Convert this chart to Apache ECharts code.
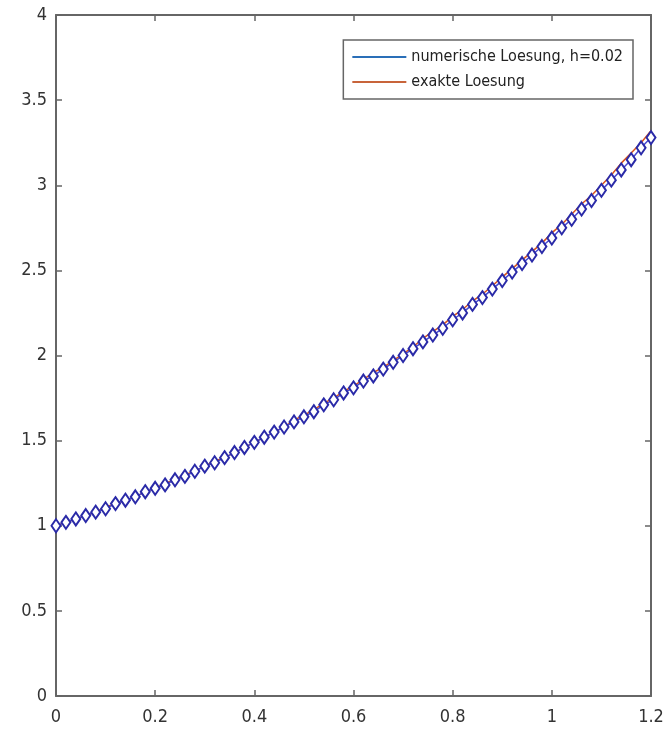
<!DOCTYPE html>
<html>
<head>
<meta charset="utf-8">
<script src="https://cdn.jsdelivr.net/npm/echarts@6/dist/echarts.min.js"></script>
<style>
  html, body { margin: 0; padding: 0; background: #fff; }
  #main { width: 669px; height: 740px; }
</style>
</head>
<body>
<div id="main"></div>
<script>
// x steps, h = 0.02
const xs = [0, 0.02, 0.04, 0.06, 0.08, 0.1, 0.12, 0.14, 0.16, 0.18, 0.2, 0.22, 0.24, 0.26, 0.28, 0.3,
  0.32, 0.34, 0.36, 0.38, 0.4, 0.42, 0.44, 0.46, 0.48, 0.5, 0.52, 0.54, 0.56, 0.58, 0.6,
  0.62, 0.64, 0.66, 0.68, 0.7, 0.72, 0.74, 0.76, 0.78, 0.8, 0.82, 0.84, 0.86, 0.88, 0.9,
  0.92, 0.94, 0.96, 0.98, 1, 1.02, 1.04, 1.06, 1.08, 1.1, 1.12, 1.14, 1.16, 1.18, 1.2]

const numerisch = [1.00, 1.02, 1.04, 1.06, 1.08, 1.10, 1.13, 1.15, 1.17, 1.20, 1.22, 1.24, 1.27, 1.29, 1.32, 1.35,
  1.37, 1.40, 1.43, 1.46, 1.49, 1.52, 1.55, 1.58, 1.61, 1.64, 1.67, 1.71, 1.74, 1.78, 1.81,
  1.85, 1.88, 1.92, 1.96, 2.00, 2.04, 2.08, 2.12, 2.16, 2.21, 2.25, 2.30, 2.34, 2.39, 2.44,
  2.49, 2.54, 2.59, 2.64, 2.69, 2.75, 2.80, 2.86, 2.91, 2.97, 3.03, 3.09, 3.15, 3.22, 3.28]

const exakt = [1.00, 1.02, 1.04, 1.06, 1.08, 1.11, 1.13, 1.15, 1.17, 1.20, 1.22, 1.25, 1.27, 1.30, 1.32, 1.35,
  1.38, 1.40, 1.43, 1.46, 1.49, 1.52, 1.55, 1.58, 1.62, 1.65, 1.68, 1.72, 1.75, 1.79, 1.82,
  1.86, 1.90, 1.93, 1.97, 2.01, 2.05, 2.10, 2.14, 2.18, 2.23, 2.27, 2.32, 2.36, 2.41, 2.46,
  2.51, 2.56, 2.61, 2.66, 2.72, 2.77, 2.83, 2.89, 2.94, 3.00, 3.06, 3.13, 3.19, 3.25, 3.32]

const seriesNames = ['numerische Loesung, h=0.02', 'exakte Loesung']

const font = '"DejaVu Sans Condensed", "Liberation Sans Narrow", "Liberation Sans", sans-serif'
const axisColor = '#666'

const chart = echarts.init(document.getElementById('main'))

const pairs = (ys) => xs.map((x, i) => [x, ys[i]])

const xAxisBase = {
  type: 'value', min: 0, max: 1.2, interval: 0.2,
  axisLine: { show: true, onZero: false, lineStyle: { color: axisColor, width: 2 } },
  axisTick: { show: true, inside: true, length: 6, lineStyle: { color: axisColor, width: 1.5 } },
  splitLine: { show: false }
}
const yAxisBase = {
  type: 'value', min: 0, max: 4, interval: 0.5,
  axisLine: { show: true, onZero: false, lineStyle: { color: axisColor, width: 2 } },
  axisTick: { show: true, inside: true, length: 6, lineStyle: { color: axisColor, width: 1.5 } },
  splitLine: { show: false }
}

chart.setOption({
  animation: false,
  backgroundColor: '#fff',
  grid: { left: 56, right: 18, top: 15, bottom: 44 },
  legend: {
    data: [
      { name: seriesNames[0], itemStyle: { color: '#2a6fb8' } },
      { name: seriesNames[1], itemStyle: { color: '#c8643a' } }
    ],
    orient: 'vertical',
    right: 36, top: 40,
    icon: 'rect',
    itemWidth: 54, itemHeight: 2,
    itemGap: 9,
    padding: [9, 10, 9, 9],
    borderColor: '#666', borderWidth: 1.5,
    backgroundColor: '#fff',
    textStyle: { fontFamily: font, fontSize: 16, color: '#222' }
  },
  xAxis: [
    Object.assign({}, xAxisBase, {
      position: 'bottom',
      axisLabel: {
        fontFamily: font, fontSize: 18, color: '#333', margin: 12,
        formatter: v => String(+v.toFixed(1))
      }
    }),
    Object.assign({}, xAxisBase, { position: 'top', axisLabel: { show: false } })
  ],
  yAxis: [
    Object.assign({}, yAxisBase, {
      position: 'left',
      axisLabel: {
        fontFamily: font, fontSize: 18, color: '#333', margin: 9,
        formatter: v => String(+v.toFixed(1))
      }
    }),
    Object.assign({}, yAxisBase, { position: 'right', axisLabel: { show: false } })
  ],
  series: [
    {
      name: seriesNames[1],
      type: 'line',
      data: pairs(exakt),
      showSymbol: false,
      lineStyle: { color: '#D95319', width: 1.5 },
      itemStyle: { color: '#D95319' },
      z: 2
    },
    {
      name: seriesNames[0],
      type: 'line',
      data: pairs(numerisch),
      symbol: 'emptyDiamond',
      symbolSize: [9, 13],
      lineStyle: { color: '#4a4ad0', width: 1.5 },
      itemStyle: { color: '#2a2aa8', borderWidth: 1.5 },
      z: 3
    }
  ]
})
</script>
</body>
</html>
